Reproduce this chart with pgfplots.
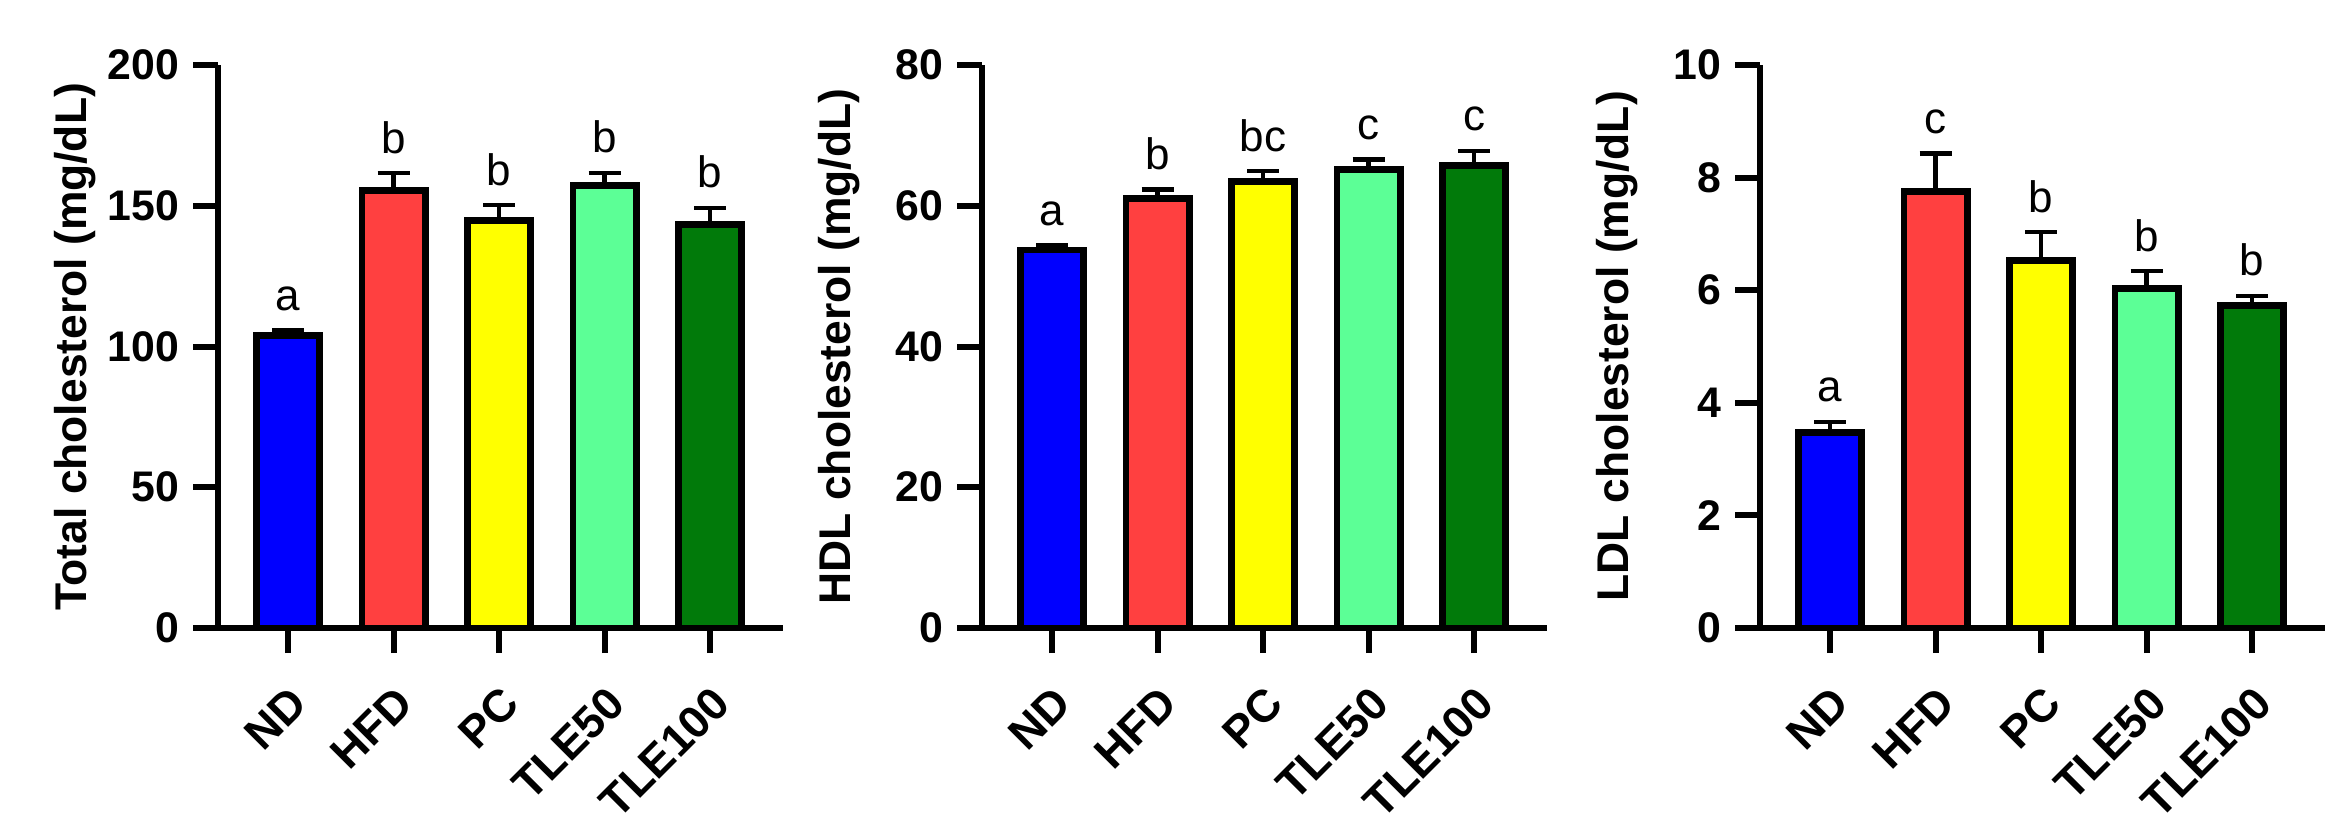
\documentclass[border=0pt]{standalone}
\usepackage{fontspec}
\setmainfont{Liberation Sans}
\usepackage{pgfplots}
\pgfplotsset{compat=1.18}
\definecolor{cND}{RGB}{0,0,255}
\definecolor{cHFD}{RGB}{255,64,64}
\definecolor{cPC}{RGB}{255,255,0}
\definecolor{cT50}{RGB}{92,255,150}
\definecolor{cT100}{RGB}{1,122,10}
\tikzset{lett/.style={anchor=base, yshift=5pt, font=\fontsize{11}{13}\selectfont}}
\pgfplotsset{
  panel/.style={
    scale only axis, width=141.25pt, height=140.75pt,
    anchor=south west,
    axis x line=bottom, axis y line=left,
    axis line style={-, line width=1.5pt},
    every tick/.style={black, line width=1.5pt},
    tick align=outside, major tick length=6.25pt,
    xmin=-0.664, xmax=4.69, ymin=0,
    xtick={0,1,2,3,4},
    xticklabels={ND,HFD,PC,TLE50,TLE100},
    xticklabel style={rotate=45, anchor=north east, font=\bfseries\fontsize{11.3}{13}\selectfont, yshift=-2pt, xshift=-2pt},
    yticklabel style={font=\bfseries\fontsize{10.7}{12}\selectfont},
    /pgf/number format/assume math mode=true,
    ylabel style={at={(axis description cs:-0.253,0.5)}, anchor=center, font=\bfseries\fontsize{11.1}{13}\selectfont},
    ybar, bar shift=0pt, bar width=0.6,
    every axis plot/.append style={draw=black, line width=1.7pt,
      error bars/y dir=plus, error bars/y explicit,
      error bars/error bar style={line width=1.1pt, black},
      error bars/error mark options={rotate=90, mark size=4pt, line width=1.1pt, black}},
  },
}
\begin{document}
\begin{tikzpicture}
\useasboundingbox (0,0) rectangle (586.25pt,206.25pt);
% Panel 1
\begin{axis}[panel, at={(54.5pt,49.25pt)}, ymax=200, ytick={0,50,100,150,200},
  ylabel={Total cholesterol (mg/dL)}]
\addplot[fill=cND] coordinates {(0,103.8) +- (0,2.0)};
\addplot[fill=cHFD] coordinates {(1,155.3) +- (0,6.3)};
\addplot[fill=cPC] coordinates {(2,144.9) +- (0,5.3)};
\addplot[fill=cT50] coordinates {(3,157.1) +- (0,4.6)};
\addplot[fill=cT100] coordinates {(4,143.4) +- (0,5.9)};
\node[lett] at (axis cs:0,105.8) {a};
\node[lett] at (axis cs:1,161.6) {b};
\node[lett] at (axis cs:2,150.2) {b};
\node[lett] at (axis cs:3,161.7) {b};
\node[lett] at (axis cs:4,149.3) {b};
\end{axis}
% Panel 2
\begin{axis}[panel, at={(245.5pt,49.25pt)}, ymax=80, ytick={0,20,40,60,80},
  ylabel={HDL cholesterol (mg/dL)}]
\addplot[fill=cND] coordinates {(0,53.7) +- (0,0.7)};
\addplot[fill=cHFD] coordinates {(1,61.0) +- (0,1.3)};
\addplot[fill=cPC] coordinates {(2,63.4) +- (0,1.5)};
\addplot[fill=cT50] coordinates {(3,65.1) +- (0,1.5)};
\addplot[fill=cT100] coordinates {(4,65.7) +- (0,2.1)};
\node[lett] at (axis cs:0,54.4) {a};
\node[lett] at (axis cs:1,62.3) {b};
\node[lett] at (axis cs:2,64.9) {bc};
\node[lett] at (axis cs:3,66.6) {c};
\node[lett] at (axis cs:4,67.8) {c};
\end{axis}
% Panel 3
\begin{axis}[panel, at={(440pt,49.25pt)}, ymax=10, ytick={0,2,4,6,8,10},
  ylabel={LDL cholesterol (mg/dL)}]
\addplot[fill=cND] coordinates {(0,3.47) +- (0,0.19)};
\addplot[fill=cHFD] coordinates {(1,7.76) +- (0,0.67)};
\addplot[fill=cPC] coordinates {(2,6.53) +- (0,0.50)};
\addplot[fill=cT50] coordinates {(3,6.03) +- (0,0.31)};
\addplot[fill=cT100] coordinates {(4,5.73) +- (0,0.17)};
\node[lett] at (axis cs:0,3.66) {a};
\node[lett] at (axis cs:1,8.43) {c};
\node[lett] at (axis cs:2,7.03) {b};
\node[lett] at (axis cs:3,6.34) {b};
\node[lett] at (axis cs:4,5.90) {b};
\end{axis}
\end{tikzpicture}
\end{document}
